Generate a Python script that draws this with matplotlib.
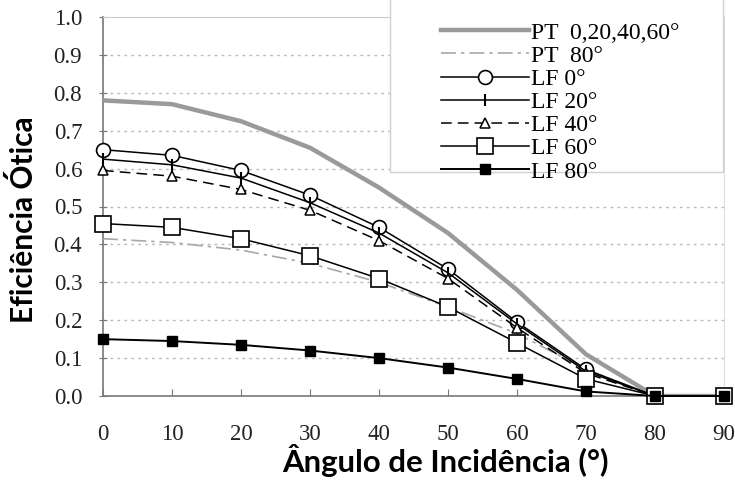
import numpy as np
import matplotlib
matplotlib.use('Agg')
import matplotlib.pyplot as plt
from matplotlib.patches import Rectangle

# data
angles = [0, 10, 20, 30, 40, 50, 60, 70, 80, 90]
pt_0_60 = [0.78, 0.77, 0.725, 0.655, 0.55, 0.43, 0.28, 0.11, 0.0, 0.0]
pt_80 = [0.415, 0.405, 0.385, 0.35, 0.30, 0.235, 0.165, 0.07, 0.0, 0.0]
lf_0 = [0.65, 0.635, 0.595, 0.53, 0.445, 0.335, 0.195, 0.07, 0.0, 0.0]
lf_20 = [0.625, 0.61, 0.575, 0.51, 0.43, 0.325, 0.19, 0.065, 0.0, 0.0]
lf_40 = [0.595, 0.58, 0.545, 0.49, 0.41, 0.31, 0.18, 0.06, 0.0, 0.0]
lf_60 = [0.455, 0.445, 0.415, 0.37, 0.31, 0.235, 0.14, 0.045, 0.0, 0.0]
lf_80 = [0.15, 0.145, 0.135, 0.12, 0.10, 0.075, 0.045, 0.012, 0.0, 0.0]

labels = ['PT  0,20,40,60°', 'PT  80°', 'LF 0°', 'LF 20°', 'LF 40°', 'LF 60°', 'LF 80°']
xticks = [0, 10, 20, 30, 40, 50, 60, 70, 80, 90]
yticks = [0.0, 0.1, 0.2, 0.3, 0.4, 0.5, 0.6, 0.7, 0.8, 0.9, 1.0]

serif = 'Liberation Serif'

fig = plt.figure(figsize=(7.35, 4.84), dpi=100)
ax = fig.add_axes([103/735, 88/484, 621/735, 379/484])

ax.plot(angles, pt_0_60, color='#9a9a9a', lw=3.2, label=labels[0], zorder=3)
ax.plot(angles, pt_80, color='#a8a8a8', lw=1.2, dashes=(9, 3, 2, 3), label=labels[1], zorder=3)
ax.plot(angles, lf_0, color='black', lw=1.1, marker='o', ms=10, mfc='white', mec='black',
        mew=1.2, label=labels[2], zorder=4, clip_on=False)
ax.plot(angles, lf_20, color='black', lw=1.1, marker='|', ms=8, mew=1.5,
        label=labels[3], zorder=4, clip_on=False)
ax.plot(angles, lf_40, color='black', lw=1.1, dashes=(7, 4), marker='^', ms=7, mfc='white',
        mec='black', mew=1.1, label=labels[4], zorder=4, clip_on=False)
ax.plot(angles, lf_60, color='black', lw=1.1, marker='s', ms=11, mfc='white', mec='black',
        mew=1.2, label=labels[5], zorder=4, clip_on=False)
ax.plot(angles, lf_80, color='black', lw=1.4, marker='s', ms=6.5, mfc='black', mec='black',
        label=labels[6], zorder=5, clip_on=False)

ax.set_xlim(0, 90)
ax.set_ylim(0, 1.0)
ax.set_xticks(xticks)
ax.set_yticks(yticks)
ax.set_xticklabels([str(t) for t in xticks], fontfamily=serif, fontsize=16.5, color='#222222')
ax.set_yticklabels(['%.1f' % t for t in yticks], fontfamily=serif, fontsize=16.5, color='#222222')
ax.tick_params(axis='x', direction='in', length=5, color='#777777', pad=20)
ax.tick_params(axis='y', direction='inout', length=6, color='#777777', pad=12)

for y in yticks[1:-1]:
    ax.axhline(y, color='#bbbbbb', lw=1.0, ls=(0, (2, 3)), zorder=1)

for s in ['left', 'bottom']:
    ax.spines[s].set_color('#777777')
    ax.spines[s].set_linewidth(1.2)
ax.spines['top'].set_color('#cccccc')
ax.spines['right'].set_color('#dddddd')

ax.set_xlabel('Ângulo de Incidência (°)', fontfamily='Lato', fontweight='bold', fontsize=22.4)
ax.set_ylabel('Eficiência Ótica', fontfamily='Lato', fontweight='bold', fontsize=21.5)
ax.xaxis.set_label_coords(0.551, -0.126)
ax.yaxis.set_label_coords(-0.105, 0.464)

# legend box sticking out of the top right corner
box = Rectangle((390/735, 312/484), 333/735, 0.5, transform=fig.transFigure,
                facecolor='white', edgecolor='#d0d0d0', lw=1.0, zorder=1)
fig.patches.append(box)

h, l = ax.get_legend_handles_labels()
leg = fig.legend(h, l, loc='upper left', bbox_to_anchor=(432/735, 0.974), frameon=False,
                 prop={'family': serif, 'size': 17}, handlelength=3.7, handletextpad=0.1,
                 labelspacing=0.07, borderaxespad=0)
leg.set_zorder(5)

fig.savefig('out.png', dpi=100)
